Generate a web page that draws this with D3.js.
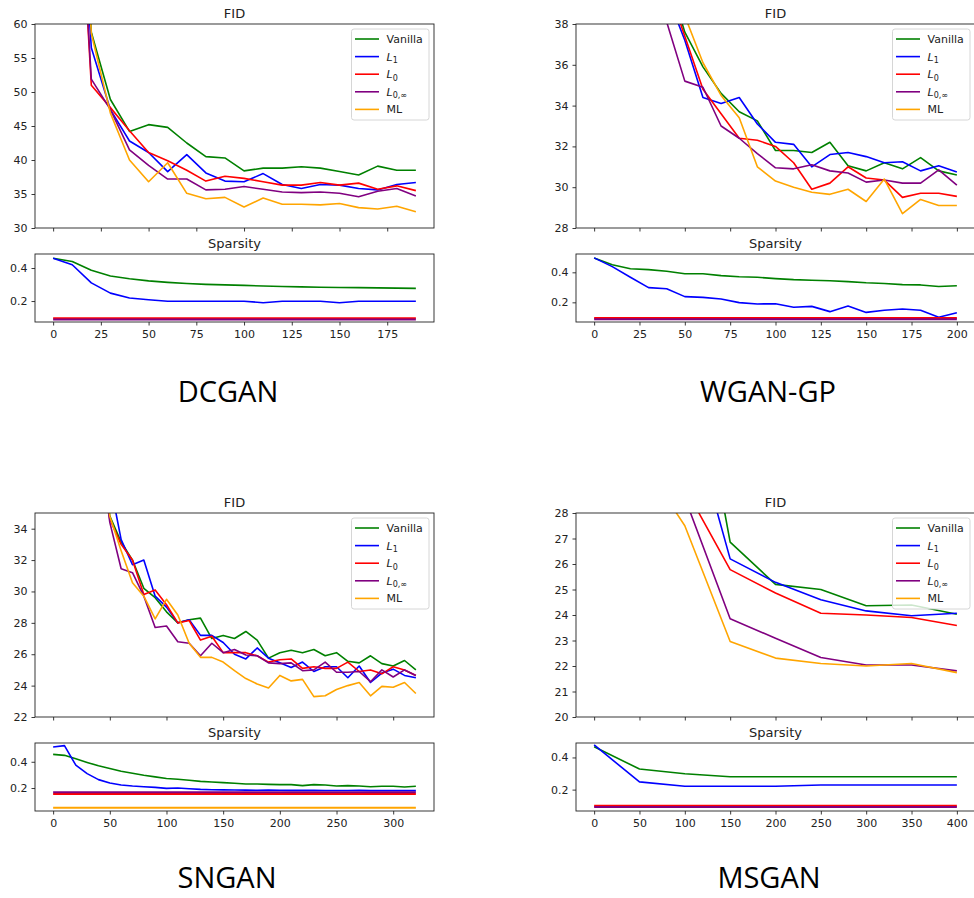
<!DOCTYPE html>
<html>
<head>
<meta charset="utf-8">
<script src="https://cdn.jsdelivr.net/npm/d3@7"></script>
<style>
  body { margin: 0; background: #fff; }
  svg { display: block; }
</style>
</head>
<body>
<div id="chart"></div>
<script>
// ---------- DCGAN ----------
const dcganSteps = [0, 10, 20, 30, 40, 50, 60, 70, 80, 90, 100, 110, 120, 130, 140, 150, 160, 170, 180, 190];
const dcganFidVanilla = [300, 105, 58.8, 48.9, 44.2, 45.2, 44.8, 42.5, 40.5, 40.3, 38.4, 38.8, 38.8, 39.0, 38.8, 38.3, 37.8, 39.1, 38.5, 38.5];
const dcganFidL1 = [300, 100, 56.5, 47.4, 42.8, 41.1, 38.3, 40.8, 38.1, 36.9, 36.8, 38.0, 36.4, 35.8, 36.4, 36.3, 35.8, 35.6, 36.4, 36.7];
const dcganFidL0 = [300, 100, 51.0, 47.7, 44.3, 41.1, 39.9, 38.5, 36.9, 37.6, 37.3, 36.8, 36.3, 36.3, 36.7, 36.3, 36.6, 35.7, 36.2, 35.5];
const dcganFidL0inf = [300, 100, 51.9, 47.4, 41.5, 39.2, 37.2, 37.2, 35.6, 35.7, 36.1, 35.7, 35.3, 35.2, 35.3, 35.1, 34.6, 35.4, 35.8, 34.7];
const dcganFidML = [300, 105, 58.6, 46.9, 40.0, 36.8, 39.6, 35.1, 34.3, 34.5, 33.1, 34.4, 33.5, 33.5, 33.4, 33.6, 33.0, 32.8, 33.2, 32.4];
const dcganSpVanilla = [0.459, 0.44, 0.386, 0.352, 0.335, 0.322, 0.313, 0.306, 0.301, 0.298, 0.295, 0.291, 0.288, 0.286, 0.284, 0.282, 0.281, 0.28, 0.278, 0.277];
const dcganSpL1 = [0.459, 0.42, 0.31, 0.248, 0.218, 0.208, 0.199, 0.199, 0.199, 0.199, 0.199, 0.19, 0.199, 0.199, 0.199, 0.19, 0.199, 0.199, 0.199, 0.199];
const dcganSpL0 = [0.095, 0.095, 0.095, 0.095, 0.095, 0.095, 0.095, 0.095, 0.095, 0.095, 0.095, 0.095, 0.095, 0.095, 0.095, 0.095, 0.095, 0.095, 0.095, 0.095];
const dcganSpL0inf = [0.088, 0.088, 0.088, 0.088, 0.088, 0.088, 0.088, 0.088, 0.088, 0.088, 0.088, 0.088, 0.088, 0.088, 0.088, 0.088, 0.088, 0.088, 0.088, 0.088];

// ---------- WGAN-GP ----------
const wganSteps = [0, 10, 20, 30, 40, 50, 60, 70, 80, 90, 100, 110, 120, 130, 140, 150, 160, 170, 180, 190, 200];
const wganFidVanilla = [150, 90, 60, 46, 40.5, 37.6, 35.9, 34.6, 33.7, 33.25, 31.8, 31.8, 31.7, 32.2, 31.05, 30.8, 31.2, 30.9, 31.45, 30.8, 30.6];
const wganFidL1 = [150, 90, 60, 45, 39.5, 37.2, 34.4, 34.1, 34.4, 33.1, 32.2, 32.1, 31.0, 31.6, 31.7, 31.5, 31.2, 31.25, 30.8, 31.05, 30.75];
const wganFidL0 = [150, 90, 60, 46, 40, 37.4, 34.8, 33.6, 32.4, 32.3, 32.0, 31.2, 29.9, 30.2, 31.0, 30.45, 30.35, 29.5, 29.7, 29.7, 29.55];
const wganFidL0inf = [150, 90, 60, 44, 38.1, 35.2, 34.9, 33.0, 32.4, 31.65, 30.95, 30.9, 31.1, 30.8, 30.7, 30.25, 30.35, 30.2, 30.2, 30.85, 30.1];
const wganFidML = [150, 90, 60, 47, 42, 38.4, 36.1, 34.5, 33.4, 31.0, 30.3, 30.0, 29.75, 29.65, 29.9, 29.3, 30.4, 28.7, 29.4, 29.1, 29.1];
const wganSpVanilla = [0.496, 0.45, 0.424, 0.418, 0.407, 0.39, 0.39, 0.378, 0.37, 0.367, 0.358, 0.351, 0.347, 0.344, 0.338, 0.33, 0.325, 0.318, 0.316, 0.305, 0.31];
const wganSpL1 = [0.496, 0.438, 0.367, 0.298, 0.291, 0.238, 0.233, 0.222, 0.198, 0.189, 0.191, 0.167, 0.173, 0.138, 0.176, 0.133, 0.147, 0.156, 0.147, 0.1, 0.131];
const wganSpL0 = [0.095, 0.095, 0.095, 0.095, 0.095, 0.095, 0.095, 0.095, 0.095, 0.095, 0.095, 0.095, 0.095, 0.095, 0.095, 0.095, 0.095, 0.095, 0.095, 0.095, 0.095];
const wganSpL0inf = [0.087, 0.087, 0.087, 0.087, 0.087, 0.087, 0.087, 0.087, 0.087, 0.087, 0.087, 0.087, 0.087, 0.087, 0.087, 0.087, 0.087, 0.087, 0.087, 0.087, 0.087];

// ---------- SNGAN ----------
const snganSteps = [0, 10, 20, 30, 40, 50, 60, 70, 80, 90, 100, 110, 120, 130, 140, 150, 160, 170, 180, 190, 200, 210, 220, 230, 240, 250, 260, 270, 280, 290, 300, 310, 320];
const snganFidVanilla = [200, 120, 80, 55, 40, 34.8, 33.15, 32.0, 30.2, 29.6, 28.7, 28.0, 28.2, 28.3, 27.0, 27.2, 27.0, 27.45, 26.9, 25.75, 26.1, 26.25, 26.1, 26.3, 25.9, 26.1, 25.55, 25.45, 25.9, 25.4, 25.25, 25.6, 25.0];
const snganFidL1 = [200, 120, 80, 55, 42, 37.0, 33.3, 31.7, 32.0, 29.7, 29.0, 28.0, 28.2, 27.2, 27.2, 26.75, 26.0, 25.7, 26.4, 25.75, 25.45, 25.15, 25.5, 24.9, 25.2, 25.2, 24.5, 25.25, 24.2, 24.8, 25.05, 24.65, 24.5];
const snganFidL0 = [200, 120, 80, 55, 40, 34.6, 33.0, 32.0, 29.8, 30.1, 29.15, 28.0, 28.15, 26.9, 27.15, 26.1, 26.1, 26.1, 25.9, 25.5, 25.65, 25.7, 25.1, 25.2, 25.1, 25.1, 25.5, 24.9, 25.0, 24.75, 25.2, 25.0, 24.65];
const snganFidL0inf = [200, 120, 80, 55, 40, 34.4, 31.45, 31.2, 29.7, 27.7, 27.8, 26.8, 26.7, 25.9, 26.7, 26.1, 26.3, 25.95, 25.9, 25.45, 25.4, 25.45, 24.95, 25.0, 25.5, 24.85, 24.85, 24.9, 24.25, 25.0, 24.55, 25.0, 24.65];
const snganFidML = [200, 120, 80, 55, 40, 34.8, 32.6, 30.55, 29.7, 28.25, 29.5, 28.5, 26.7, 25.8, 25.8, 25.5, 24.95, 24.45, 24.1, 23.85, 24.65, 24.3, 24.4, 23.3, 23.35, 23.75, 24.0, 24.2, 23.35, 23.95, 23.9, 24.2, 23.5];
const snganSpVanilla = [0.456, 0.449, 0.423, 0.395, 0.369, 0.349, 0.328, 0.313, 0.297, 0.285, 0.272, 0.267, 0.259, 0.251, 0.246, 0.241, 0.236, 0.231, 0.231, 0.228, 0.226, 0.226, 0.218, 0.226, 0.223, 0.215, 0.218, 0.215, 0.21, 0.213, 0.213, 0.208, 0.213];
const snganSpL1 = [0.513, 0.523, 0.374, 0.31, 0.264, 0.238, 0.223, 0.215, 0.21, 0.205, 0.197, 0.2, 0.195, 0.19, 0.187, 0.186, 0.185, 0.184, 0.183, 0.185, 0.183, 0.182, 0.182, 0.182, 0.181, 0.181, 0.181, 0.182, 0.18, 0.18, 0.18, 0.18, 0.18];
const snganSpL0 = [0.155, 0.155, 0.155, 0.155, 0.155, 0.155, 0.155, 0.155, 0.155, 0.155, 0.155, 0.155, 0.155, 0.155, 0.155, 0.155, 0.155, 0.155, 0.155, 0.155, 0.155, 0.155, 0.155, 0.155, 0.155, 0.155, 0.155, 0.155, 0.155, 0.155, 0.155, 0.155, 0.155];
const snganSpL0inf = [0.168, 0.168, 0.168, 0.168, 0.168, 0.168, 0.168, 0.168, 0.168, 0.168, 0.168, 0.168, 0.168, 0.168, 0.168, 0.168, 0.168, 0.168, 0.168, 0.168, 0.168, 0.168, 0.168, 0.168, 0.168, 0.168, 0.168, 0.168, 0.168, 0.168, 0.168, 0.168, 0.168];
const snganSpML = [0.049, 0.049, 0.049, 0.049, 0.049, 0.049, 0.049, 0.049, 0.049, 0.049, 0.049, 0.049, 0.049, 0.049, 0.049, 0.049, 0.049, 0.049, 0.049, 0.049, 0.049, 0.049, 0.049, 0.049, 0.049, 0.049, 0.049, 0.049, 0.049, 0.049, 0.049, 0.049, 0.049];

// ---------- MSGAN ----------
const msganSteps = [0, 50, 100, 150, 200, 250, 300, 350, 400];
const msganFidVanilla = [90, 60, 36.5, 26.86, 25.2, 25.0, 24.36, 24.39, 24.03];
const msganFidL1 = [90, 60, 32.6, 26.2, 25.28, 24.6, 24.16, 23.97, 24.07];
const msganFidL0 = [90, 55, 29.0, 25.78, 24.86, 24.07, 24.0, 23.9, 23.59];
const msganFidL0inf = [90, 45, 28.6, 23.85, 23.09, 22.33, 22.04, 22.04, 21.81];
const msganFidML = [90, 30.2, 27.5, 22.96, 22.31, 22.1, 22.0, 22.1, 21.74];
const msganSpVanilla = [0.467, 0.328, 0.299, 0.28, 0.28, 0.28, 0.28, 0.28, 0.28];
const msganSpL1 = [0.478, 0.248, 0.221, 0.221, 0.221, 0.229, 0.229, 0.229, 0.229];
const msganSpL0 = [0.1, 0.1, 0.1, 0.1, 0.1, 0.1, 0.1, 0.1, 0.1];
const msganSpL0inf = [0.092, 0.092, 0.092, 0.092, 0.092, 0.092, 0.092, 0.092, 0.092];

// Series order and colours (matplotlib named colours)
const seriesColors = ['#008000', '#0000ff', '#ff0000', '#800080', '#ffa500'];
const legendLabels = [
    { text: 'Vanilla' },
    { italic: 'L', sub: '1' },
    { italic: 'L', sub: '0' },
    { italic: 'L', sub: '0,\u221e' },
    { text: 'ML' }
];

// Panel table built from the arrays above
const panels = [
    { name: 'DCGAN', steps: dcganSteps,
      fid: [dcganFidVanilla, dcganFidL1, dcganFidL0, dcganFidL0inf, dcganFidML],
      sp: [dcganSpVanilla, dcganSpL1, dcganSpL0, dcganSpL0inf, null],
      xDomain: [-9.5, 199.5], xTicks: [0, 25, 50, 75, 100, 125, 150, 175],
      fidDomain: [30, 60], fidTicks: [30, 35, 40, 45, 50, 55, 60],
      spDomain: [0.073, 0.485],
      left: 35, right: 434, top: 24, labelX: 228, labelY: 402 },
    { name: 'WGAN-GP', steps: wganSteps,
      fid: [wganFidVanilla, wganFidL1, wganFidL0, wganFidL0inf, wganFidML],
      sp: [wganSpVanilla, wganSpL1, wganSpL0, wganSpL0inf, null],
      xDomain: [-10, 210], xTicks: [0, 25, 50, 75, 100, 125, 150, 175, 200],
      fidDomain: [28, 38], fidTicks: [28, 30, 32, 34, 36, 38],
      spDomain: [0.069, 0.522],
      left: 576, right: 975, top: 24, labelX: 768, labelY: 402 },
    { name: 'SNGAN', steps: snganSteps,
      fid: [snganFidVanilla, snganFidL1, snganFidL0, snganFidL0inf, snganFidML],
      sp: [snganSpVanilla, snganSpL1, snganSpL0, snganSpL0inf, snganSpML],
      xDomain: [-16, 336], xTicks: [0, 50, 100, 150, 200, 250, 300],
      fidDomain: [22, 35], fidTicks: [22, 24, 26, 28, 30, 32, 34],
      spDomain: [0.025, 0.543],
      left: 35, right: 434, top: 513, labelX: 227, labelY: 888 },
    { name: 'MSGAN', steps: msganSteps,
      fid: [msganFidVanilla, msganFidL1, msganFidL0, msganFidL0inf, msganFidML],
      sp: [msganSpVanilla, msganSpL1, msganSpL0, msganSpL0inf, null],
      xDomain: [-20, 420], xTicks: [0, 50, 100, 150, 200, 250, 300, 350, 400],
      fidDomain: [20, 28], fidTicks: [20, 21, 22, 23, 24, 25, 26, 27, 28],
      spDomain: [0.067, 0.49],
      left: 576, right: 975, top: 513, labelX: 769, labelY: 888 }
];

const FID_H = 204, GAP = 26, SP_H = 68;
const tickFont = 'DejaVu Sans, sans-serif';

const svg = d3.select('#chart')
    .append('svg')
    .attr('width', 974)
    .attr('height', 898)
    .style('background', '#fff');

const styleAxis = g => {
    g.select('.domain').remove();
    g.selectAll('.tick line').attr('stroke', '#222').attr('stroke-width', 0.9);
    g.selectAll('.tick text')
        .attr('fill', '#222')
        .attr('font-family', tickFont)
        .attr('font-size', 11);
};

const renderPanel = (p, idx) => {
    const fidTop = p.top, fidBottom = p.top + FID_H;
    const spTop = fidBottom + GAP, spBottom = spTop + SP_H;

    const xScale = d3.scaleLinear().domain(p.xDomain).range([p.left, p.right]);
    const yFid = d3.scaleLinear().domain(p.fidDomain).range([fidBottom, fidTop]);
    const ySp = d3.scaleLinear().domain(p.spDomain).range([spBottom, spTop]);

    // clip regions so lines stay inside each subplot
    svg.append('clipPath').attr('id', `clip-fid-${idx}`)
        .append('rect')
        .attr('x', p.left).attr('y', fidTop)
        .attr('width', p.right - p.left).attr('height', FID_H);
    svg.append('clipPath').attr('id', `clip-sp-${idx}`)
        .append('rect')
        .attr('x', p.left).attr('y', spTop)
        .attr('width', p.right - p.left).attr('height', SP_H);

    // FID lines
    const fidLine = d3.line()
        .x((d, i) => xScale(p.steps[i]))
        .y(d => yFid(d));
    svg.append('g')
        .attr('clip-path', `url(#clip-fid-${idx})`)
        .selectAll('path')
        .data(p.fid)
        .join('path')
            .attr('fill', 'none')
            .attr('stroke', (d, i) => seriesColors[i])
            .attr('stroke-width', 1.6)
            .attr('stroke-linejoin', 'round')
            .attr('d', fidLine);

    // Sparsity lines
    const spLine = d3.line()
        .x((d, i) => xScale(p.steps[i]))
        .y(d => ySp(d));
    svg.append('g')
        .attr('clip-path', `url(#clip-sp-${idx})`)
        .selectAll('path')
        .data(p.sp.map((s, i) => ({ s, i })).filter(o => o.s))
        .join('path')
            .attr('fill', 'none')
            .attr('stroke', o => seriesColors[o.i])
            .attr('stroke-width', o => o.i >= 2 ? 2 : 1.6)
            .attr('stroke-linejoin', 'round')
            .attr('d', o => spLine(o.s));

    // Axes: FID (tick marks only on x)
    svg.append('g')
        .attr('transform', `translate(0, ${fidBottom})`)
        .call(d3.axisBottom(xScale).tickValues(p.xTicks).tickFormat('').tickSize(3.5))
        .call(styleAxis);
    svg.append('g')
        .attr('transform', `translate(${p.left}, 0)`)
        .call(d3.axisLeft(yFid).tickValues(p.fidTicks).tickSize(3.5).tickPadding(4))
        .call(styleAxis);

    // Axes: Sparsity
    svg.append('g')
        .attr('transform', `translate(0, ${spBottom})`)
        .call(d3.axisBottom(xScale).tickValues(p.xTicks).tickSize(3.5).tickPadding(5))
        .call(styleAxis);
    svg.append('g')
        .attr('transform', `translate(${p.left}, 0)`)
        .call(d3.axisLeft(ySp).tickValues([0.2, 0.4]).tickFormat(d3.format('.1f')).tickSize(3.5).tickPadding(4))
        .call(styleAxis);

    // frames
    [[fidTop, FID_H], [spTop, SP_H]].forEach(([t, h]) => {
        svg.append('rect')
            .attr('x', p.left).attr('y', t)
            .attr('width', p.right - p.left).attr('height', h)
            .attr('fill', 'none')
            .attr('stroke', '#222')
            .attr('stroke-width', 0.9);
    });

    // subplot titles
    const mid = (p.left + p.right) / 2;
    svg.append('text')
        .text('FID')
        .attr('x', mid).attr('y', fidTop - 6)
        .attr('text-anchor', 'middle')
        .attr('font-family', tickFont).attr('font-size', 13).attr('fill', '#222');
    svg.append('text')
        .text('Sparsity')
        .attr('x', mid).attr('y', spTop - 6)
        .attr('text-anchor', 'middle')
        .attr('font-family', tickFont).attr('font-size', 13).attr('fill', '#222');

    // legend
    const lw = 77.5, lh = 91;
    const lx = p.right - 5 - lw, ly = fidTop + 5;
    const legend = svg.append('g').attr('transform', `translate(${lx}, ${ly})`);
    legend.append('rect')
        .attr('width', lw).attr('height', lh)
        .attr('rx', 2.5)
        .attr('fill', 'rgba(255,255,255,0.8)')
        .attr('stroke', '#d6d6d6')
        .attr('stroke-width', 1);
    legendLabels.forEach((lab, i) => {
        const cy = 10 + i * 17.6;
        legend.append('line')
            .attr('x1', 3.5).attr('x2', 27.5)
            .attr('y1', cy).attr('y2', cy)
            .attr('stroke', seriesColors[i])
            .attr('stroke-width', 1.6);
        const t = legend.append('text')
            .attr('x', 35).attr('y', cy + 4)
            .attr('font-family', tickFont).attr('font-size', 11).attr('fill', '#222');
        if (lab.text) {
            t.text(lab.text);
        } else {
            t.append('tspan').attr('font-style', 'italic').text(lab.italic);
            t.append('tspan').attr('font-size', 8).attr('dy', 2.5).text(lab.sub);
        }
    });

    // big model label under each pair of subplots
    svg.append('text')
        .text(p.name)
        .attr('x', p.labelX).attr('y', p.labelY)
        .attr('text-anchor', 'middle')
        .attr('font-family', 'Open Sans, Noto Sans, sans-serif')
        .attr('font-size', 29)
        .attr('fill', '#000');
};

panels.forEach(renderPanel);
</script>
</body>
</html>
